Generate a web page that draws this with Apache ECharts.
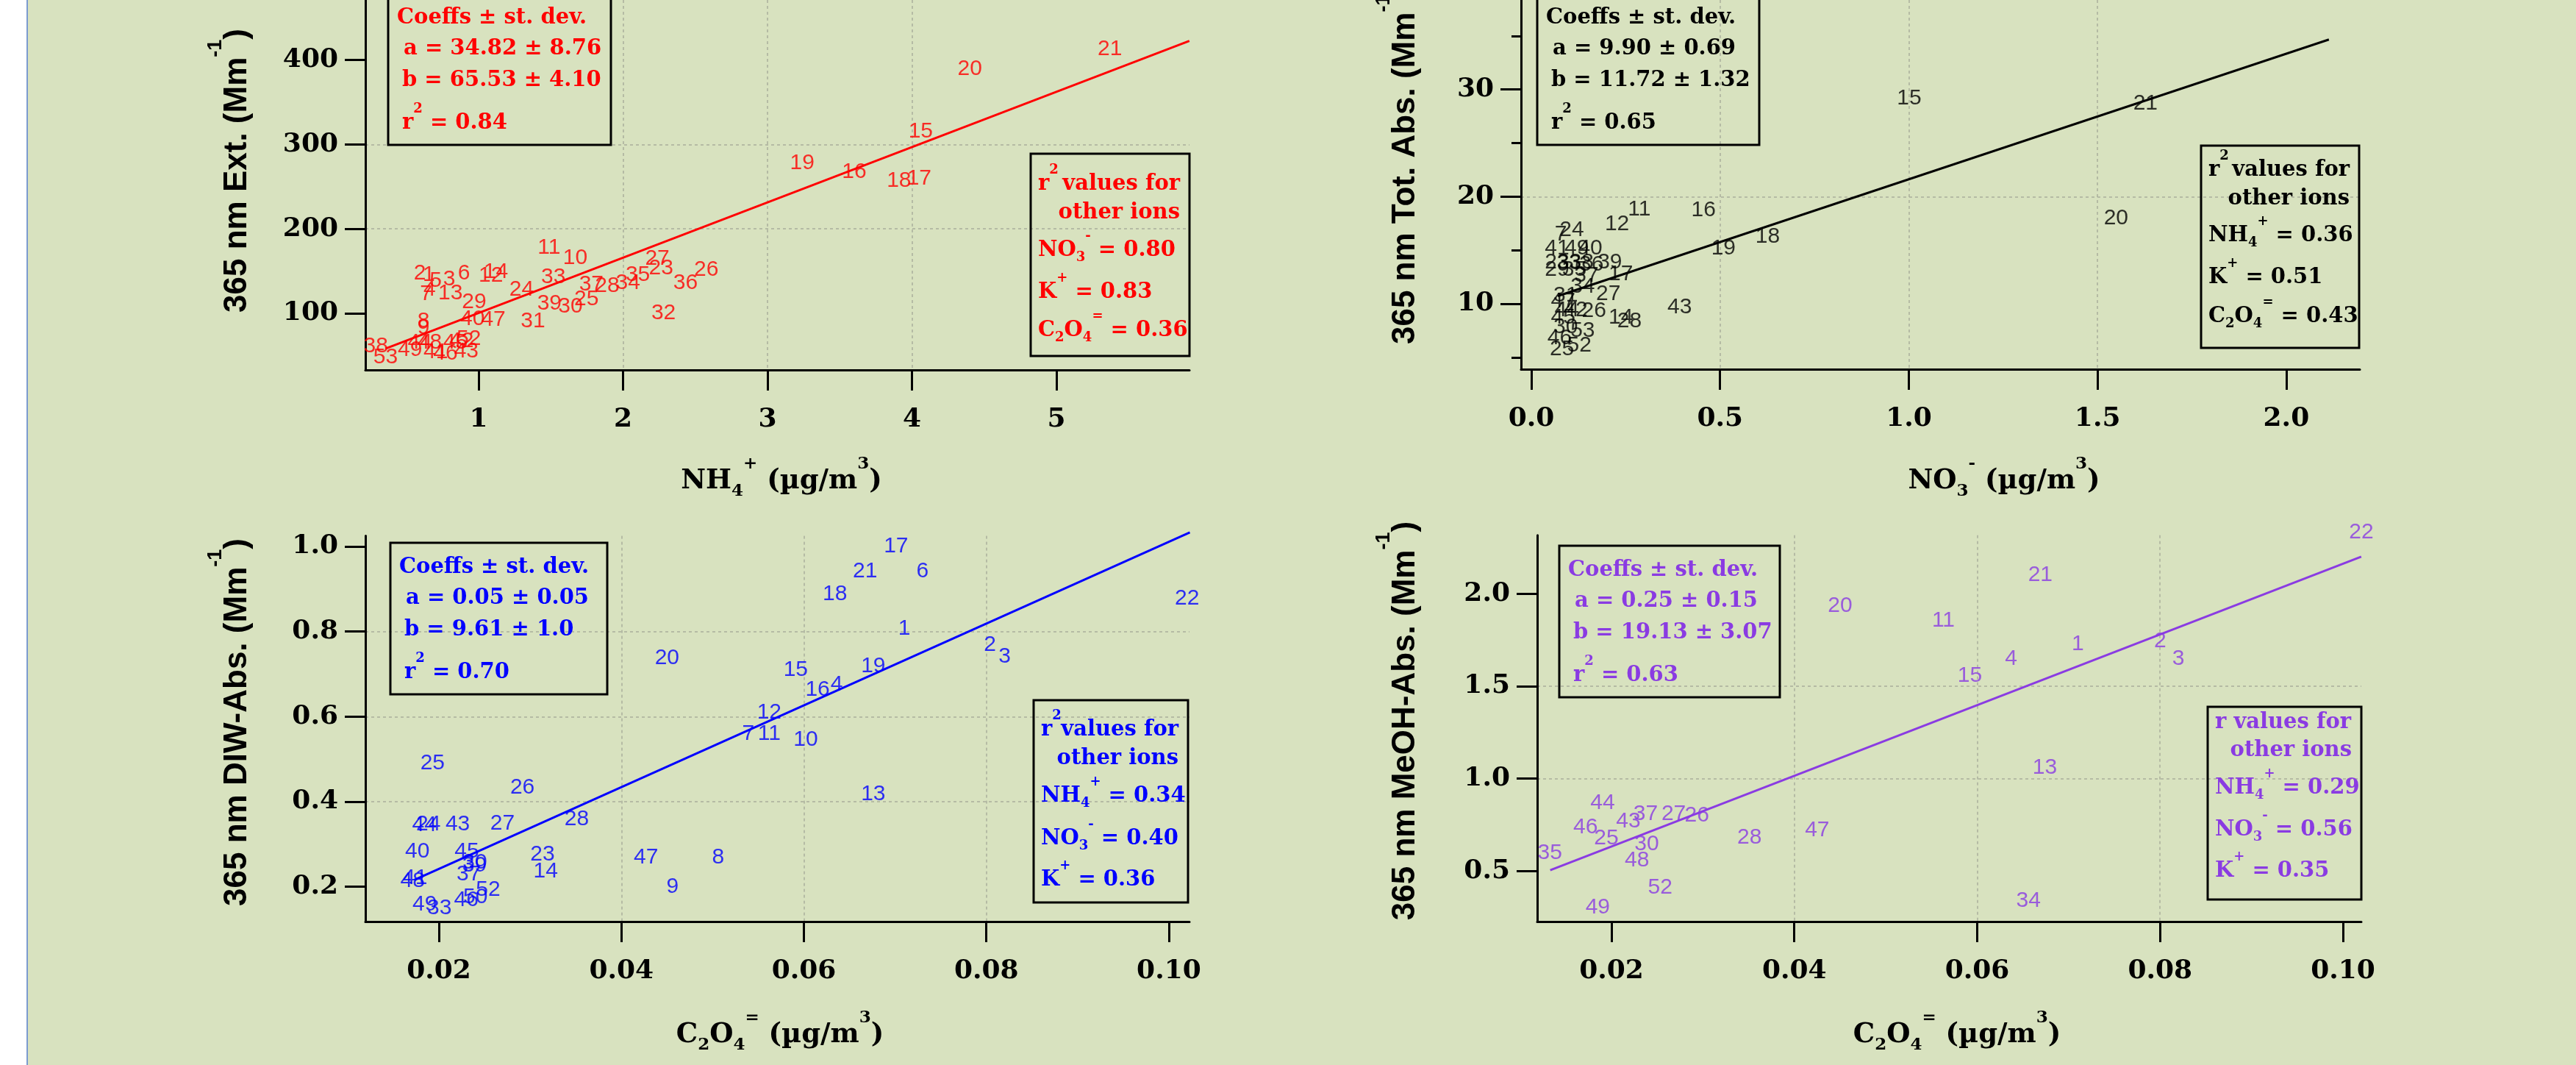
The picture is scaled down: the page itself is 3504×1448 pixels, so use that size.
<!DOCTYPE html>
<html>
<head>
<meta charset="UTF-8">
<script src="https://cdn.jsdelivr.net/npm/echarts@6/dist/echarts.min.js"></script>
<style>
html, body { margin: 0; padding: 0; background: #d8e2bf; }
#chart { width: 3504px; height: 1448px; }
</style>
</head>
<body>
<div id="chart"></div>
<script>
// ---- data: [x, y, sample no.] ----

// panel 1: NH4+ vs 365 nm Ext.
const nh4Ext = [
  [5.37, 412.8, 21], [4.40, 389.3, 20], [4.06, 315.2, 15], [3.24, 278.0, 19],
  [3.60, 267.3, 16], [3.91, 257.2, 18], [4.05, 259.5, 17],
  [1.488, 177.5, 11], [1.669, 165.8, 10], [1.517, 143.0, 33], [1.297, 127.8, 24],
  [1.49, 111.7, 39], [1.636, 107.9, 30], [1.746, 116.7, 25], [1.78, 134.2, 37],
  [1.89, 132.7, 28], [2.034, 135.7, 34], [2.102, 145.9, 35], [2.237, 164.9, 27],
  [2.263, 153.2, 23], [2.432, 135.7, 36], [2.576, 151.8, 26], [2.28, 100.6, 32],
  [1.376, 90.9, 31], [0.969, 113.2, 29], [0.958, 93.3, 40], [1.102, 92.7, 47],
  [1.085, 145.0, 12], [1.119, 148.8, 14], [0.898, 147.4, 6], [0.797, 140.0, 3],
  [0.703, 138.6, 5], [0.593, 147.4, 2], [0.656, 145.3, 1], [0.661, 128.4, 4],
  [0.636, 122.5, 7], [0.805, 124.0, 13], [0.619, 90.9, 8], [0.619, 83.0, 9],
  [0.288, 61.1, 38], [0.356, 48.0, 53], [0.525, 56.7, 49], [0.593, 65.5, 44],
  [0.661, 65.5, 48], [0.881, 67.5, 42], [0.839, 65.5, 45], [0.932, 69.9, 52],
  [0.771, 52.3, 46], [0.915, 55.3, 43], [0.703, 53.8, 41]
];
const nh4Fit = [[0.357, 58.2], [5.92, 422.8]];

// panel 2: NO3- vs 365 nm Tot. Abs.
const no3Tot = [
  [1.001, 29.15, 15], [1.627, 28.68, 21], [1.549, 17.96, 20], [0.626, 16.26, 18],
  [0.509, 15.19, 19], [0.456, 18.72, 16], [0.286, 18.79, 11], [0.227, 17.42, 12],
  [0.107, 16.85, 24], [0.078, 16.5, 7], [0.393, 9.66, 43], [0.204, 10.91, 27],
  [0.237, 12.74, 17], [0.208, 13.88, 39], [0.166, 9.32, 26], [0.237, 8.74, 14],
  [0.26, 8.4, 28], [0.068, 15.14, 41], [0.156, 15.14, 40], [0.12, 15.2, 49],
  [0.068, 13.88, 23], [0.10, 13.77, 33], [0.133, 13.88, 38], [0.159, 13.65, 36],
  [0.068, 13.2, 29], [0.114, 13.2, 35], [0.146, 12.63, 37], [0.136, 11.6, 34],
  [0.091, 10.8, 31], [0.084, 10.23, 47], [0.094, 9.43, 44], [0.117, 9.43, 42],
  [0.084, 8.74, 45], [0.091, 7.83, 30], [0.136, 7.49, 53], [0.081, 5.78, 25],
  [0.127, 6.12, 52], [0.075, 6.8, 46]
];
const no3Fit = [[0.07, 10.72], [2.113, 34.66]];

// panel 3: C2O4= vs 365 nm DIW-Abs.
const oxDiw = [
  [0.0701, 1.0, 17], [0.0667, 0.942, 21], [0.073, 0.942, 6], [0.0634, 0.888, 18],
  [0.071, 0.807, 1], [0.0804, 0.768, 2], [0.082, 0.741, 3], [0.102, 0.877, 22],
  [0.045, 0.738, 20], [0.0591, 0.71, 15], [0.0676, 0.718, 19], [0.0615, 0.664, 16],
  [0.0636, 0.675, 4], [0.0562, 0.61, 12], [0.0539, 0.56, 7], [0.0562, 0.56, 11],
  [0.0602, 0.545, 10], [0.0676, 0.417, 13], [0.0193, 0.49, 25], [0.02915, 0.434, 26],
  [0.0506, 0.269, 8], [0.0427, 0.269, 47], [0.0456, 0.199, 9], [0.01885, 0.346, 24],
  [0.0184, 0.345, 44], [0.02206, 0.346, 43], [0.02696, 0.349, 27], [0.0351, 0.358, 28],
  [0.01764, 0.282, 40], [0.02305, 0.282, 45], [0.02394, 0.256, 30], [0.0239, 0.25, 39],
  [0.02327, 0.23, 37], [0.03135, 0.2765, 23], [0.0317, 0.236, 14], [0.01711, 0.2128, 48],
  [0.0174, 0.22, 41], [0.0254, 0.1925, 52], [0.023, 0.169, 46], [0.024, 0.175, 50],
  [0.01845, 0.1577, 49], [0.02005, 0.149, 33]
];
const oxDiwFit = [[0.0173, 0.216], [0.1023, 1.033]];

// panel 4: C2O4= vs 365 nm MeOH-Abs.
const oxMeoh = [
  [0.102, 2.332, 22], [0.0669, 2.10, 21], [0.045, 1.935, 20], [0.0563, 1.855, 11],
  [0.071, 1.728, 1], [0.08, 1.745, 2], [0.082, 1.647, 3], [0.0637, 1.647, 4],
  [0.0592, 1.558, 15], [0.0674, 1.06, 13], [0.0656, 0.338, 34], [0.0425, 0.72, 47],
  [0.0351, 0.679, 28], [0.01904, 0.869, 44], [0.01716, 0.736, 46], [0.01944, 0.676, 25],
  [0.02185, 0.769, 43], [0.02373, 0.809, 37], [0.0268, 0.809, 27], [0.02935, 0.802, 26],
  [0.02386, 0.647, 30], [0.02279, 0.557, 48], [0.01327, 0.597, 35], [0.02533, 0.411, 52],
  [0.0185, 0.302, 49]
];
const oxMeohFit = [[0.0133, 0.504], [0.102, 2.201]];

// tick values
const ticksNh4 = [1, 2, 3, 4, 5];
const ticksExt = [100, 200, 300, 400];
const ticksNo3 = [0, 0.5, 1.0, 1.5, 2.0];
const ticksTot = [10, 20, 30];
const ticksTotMinor = [5, 15, 25, 35];
const ticksOx = [0.02, 0.04, 0.06, 0.08, 0.10];
const ticksDiw = [0.2, 0.4, 0.6, 0.8, 1.0];
const ticksMeoh = [0.5, 1.0, 1.5, 2.0];

// ---- styling ----
const SERIF = '"DejaVu Serif", serif';
const SANS = '"Liberation Sans", Arial, sans-serif';
const GRIDLINE = '#a9ae9c';
const RED = '#ff0000', BLACK = '#000000', BLUE = '#0000ff', PURPLE = '#8a3be2';

function axis(gridIndex, min, max, ticks, dec, pos, margin) {
  return {
    type: 'value', gridIndex, min, max, position: pos,
    axisLine: { show: true, onZero: false, lineStyle: { color: '#000', width: 3 } },
    axisTick: { show: true, customValues: ticks, length: 28, lineStyle: { color: '#000', width: 3 } },
    axisLabel: {
      show: true, customValues: ticks, margin,
      formatter: v => Number(v).toFixed(dec),
      color: '#000', fontFamily: SERIF, fontWeight: 'bold', fontSize: 36
    },
    splitLine: { show: true, showMinLine: false, showMaxLine: false,
      lineStyle: { color: GRIDLINE, type: [4, 4], width: 1.5 } }
  };
}

function labels(data, xi, yi, color) {
  return {
    type: 'scatter', xAxisIndex: xi, yAxisIndex: yi, data,
    symbolSize: 1, itemStyle: { color: 'rgba(0,0,0,0)' }, clip: false, z: 3,
    label: { show: true, position: 'inside', formatter: p => String(p.value[2]),
      color, fontFamily: SANS, fontSize: 30 }
  };
}

function fit(data, xi, yi, color) {
  return {
    type: 'line', xAxisIndex: xi, yAxisIndex: yi, data,
    symbol: 'none', clip: false, z: 2,
    lineStyle: { color, width: 3 }
  };
}

// rich text helpers for sub/superscripts
const FS = 29;
function rich(color, fs, family, weight) {
  fs = fs || FS; family = family || SERIF; weight = weight || 'bold';
  const s = Math.round(fs * 0.62);
  const L = Math.round(fs * 1.93);
  const padSub = Math.max(0, Math.round(L / 2 - s / 2 - 0.35 * fs));
  const base = { fontFamily: family, fontWeight: weight, fill: color };
  return {
    n: Object.assign({ fontSize: fs, lineHeight: L, verticalAlign: 'middle' }, base),
    sup: Object.assign({ fontSize: s, lineHeight: s, verticalAlign: 'top' }, base),
    sub: Object.assign({ fontSize: s, lineHeight: s, verticalAlign: 'bottom', padding: [0, 0, padSub, 0] }, base)
  };
}

function txt(text, x, baseline, color, align, fs, family, weight) {
  fs = fs || FS;
  const L = Math.round(fs * 1.93);
  return {
    type: 'text', z: 10, silent: true,
    x, y: baseline - L / 2 - 0.36 * fs,
    style: { text, align: align || 'left', verticalAlign: 'top', rich: rich(color, fs, family, weight) }
  };
}

function rect(l, t, r, b) {
  return { type: 'rect', z: 9, silent: true,
    shape: { x: l, y: t, width: r - l, height: b - t },
    style: { fill: 'none', stroke: '#000', lineWidth: 3 } };
}

function coeffBox(l, t, r, b, color, a, bb, r2) {
  return [
    rect(l, t, r, b),
    txt('{n|Coeffs ± st. dev.}', l + 12, b - 162, color),
    txt('{n|a = ' + a + '}', l + 21, b - 120, color),
    txt('{n|b = ' + bb + '}', l + 19, b - 77, color),
    txt('{n|r}{sup|2}{n| = ' + r2 + '}', l + 19, b - 19, color)
  ];
}

function ionBox(l, t, r, b, color, lines, base, useSq) {
  const out = [rect(l, t, r, b)];
  if (useSq) {
    out.push(txt('{n|r}{sup|2}', l + 10, base[0], color));
    out.push(txt('{n|values for}', r - 13, base[0], color, 'right'));
  } else {
    out.push(txt('{n|r values for}', l + 10, base[0], color));
  }
  out.push(txt('{n|other ions}', r - 13, base[1], color, 'right'));
  lines.forEach((s, i) => out.push(txt(s, l + 10, base[i + 2], color)));
  return out;
}

const NH4 = '{n|NH}{sub|4}{sup|+}';
const NO3 = '{n|NO}{sub|3}{sup|-}';
const KP = '{n|K}{sup|+}';
const OX = '{n|C}{sub|2}{n|O}{sub|4}{sup|=}';

function ytitle(label, x, y) {
  return {
    type: 'text', z: 10, silent: true, x, y, rotation: Math.PI / 2,
    style: { text: label, align: 'center', verticalAlign: 'middle', rich: rich('#000', 44, SANS, 'bold') }
  };
}

const graphics = [
  { type: 'rect', z: 0, silent: true, shape: { x: 0, y: 0, width: 36, height: 1448 }, style: { fill: '#ffffff' } },
  { type: 'rect', z: 0, silent: true, shape: { x: 36, y: 0, width: 2, height: 1448 }, style: { fill: '#7c9bd0' } },
  ...coeffBox(528, -9, 831, 197, RED, '34.82 ± 8.76', '65.53 ± 4.10', '0.84'),
  ...ionBox(1402, 209, 1618, 484, RED,
    [NO3 + '{n| = 0.80}', KP + '{n| = 0.83}', OX + '{n| = 0.36}'], [261, 300, 351, 408, 460], true),
  ...coeffBox(2091, -9, 2393, 197, BLACK, '9.90 ± 0.69', '11.72 ± 1.32', '0.65'),
  ...ionBox(2994, 198, 3209, 473, BLACK,
    [NH4 + '{n| = 0.36}', KP + '{n| = 0.51}', OX + '{n| = 0.43}'], [242, 281, 331, 388, 441], true),
  ...coeffBox(531, 738, 826, 944, BLUE, '0.05 ± 0.05', '9.61 ± 1.0', '0.70'),
  ...ionBox(1406, 952, 1616, 1227, BLUE,
    [NH4 + '{n| = 0.34}', NO3 + '{n| = 0.40}', KP + '{n| = 0.36}'], [1003, 1042, 1093, 1151, 1207], true),
  ...coeffBox(2121, 742, 2421, 948, PURPLE, '0.25 ± 0.15', '19.13 ± 3.07', '0.63'),
  ...ionBox(3003, 961, 3212, 1223, PURPLE,
    [NH4 + '{n| = 0.29}', NO3 + '{n| = 0.56}', KP + '{n| = 0.35}'], [993, 1031, 1082, 1139, 1195], false),
  // axis titles
  txt(NH4 + '{n| (µg/m}{sup|3}{n|)}', 1063, 668, '#000', 'center', 37),
  txt(NO3 + '{n| (µg/m}{sup|3}{n|)}', 2726, 668, '#000', 'center', 37),
  txt(OX + '{n| (µg/m}{sup|3}{n|)}', 1061, 1421, '#000', 'center', 37),
  txt(OX + '{n| (µg/m}{sup|3}{n|)}', 2662, 1421, '#000', 'center', 37),
  ytitle('{n|365 nm Ext. (Mm}{sup|-1}{n|)}', 323, 232),
  ytitle('{n|365 nm Tot. Abs. (Mm}{sup|-1}{n|)}', 1912, 223),
  ytitle('{n|365 nm DIW-Abs. (Mm}{sup|-1}{n|)}', 323, 982),
  ytitle('{n|365 nm MeOH-Abs. (Mm}{sup|-1}{n|)}', 1912, 980)
];

const minorAxis = {
  type: 'value', gridIndex: 1, min: 3.89, max: 38.35, position: 'left',
  axisLine: { show: false, onZero: false },
  axisTick: { show: true, customValues: ticksTotMinor, length: 13, lineStyle: { color: '#000', width: 3 } },
  axisLabel: { show: false }, splitLine: { show: false }
};

const option = {
  animation: false,
  backgroundColor: '#d8e2bf',
  grid: [
    { left: 497, top: 0, width: 1121, height: 503 },
    { left: 2069, top: 0, width: 1141, height: 502 },
    { left: 497, top: 728.6, width: 1121, height: 524.4 },
    { left: 2091, top: 727.7, width: 1121, height: 525.3 }
  ],
  xAxis: [
    axis(0, 0.216, 5.921, ticksNh4, 0, 'bottom', 50),
    axis(1, -0.0273, 2.195, ticksNo3, 1, 'bottom', 50),
    axis(2, 0.01194, 0.10226, ticksOx, 2, 'bottom', 50),
    axis(3, 0.01188, 0.10201, ticksOx, 2, 'bottom', 50)
  ],
  yAxis: [
    axis(0, 32.9, 471.2, ticksExt, 0, 'left', 37),
    axis(1, 3.89, 38.35, ticksTot, 0, 'left', 37),
    axis(2, 0.118, 1.0249, ticksDiw, 1, 'left', 37),
    axis(3, 0.2262, 2.3168, ticksMeoh, 1, 'left', 37),
    minorAxis
  ],
  series: [
    fit(nh4Fit, 0, 0, RED), labels(nh4Ext, 0, 0, RED),
    fit(no3Fit, 1, 1, BLACK), labels(no3Tot, 1, 1, BLACK),
    fit(oxDiwFit, 2, 2, BLUE), labels(oxDiw, 2, 2, BLUE),
    fit(oxMeohFit, 3, 3, PURPLE), labels(oxMeoh, 3, 3, PURPLE)
  ],
  graphic: graphics
};

const chart = echarts.init(document.getElementById('chart'));
chart.setOption(option);
</script>
</body>
</html>
